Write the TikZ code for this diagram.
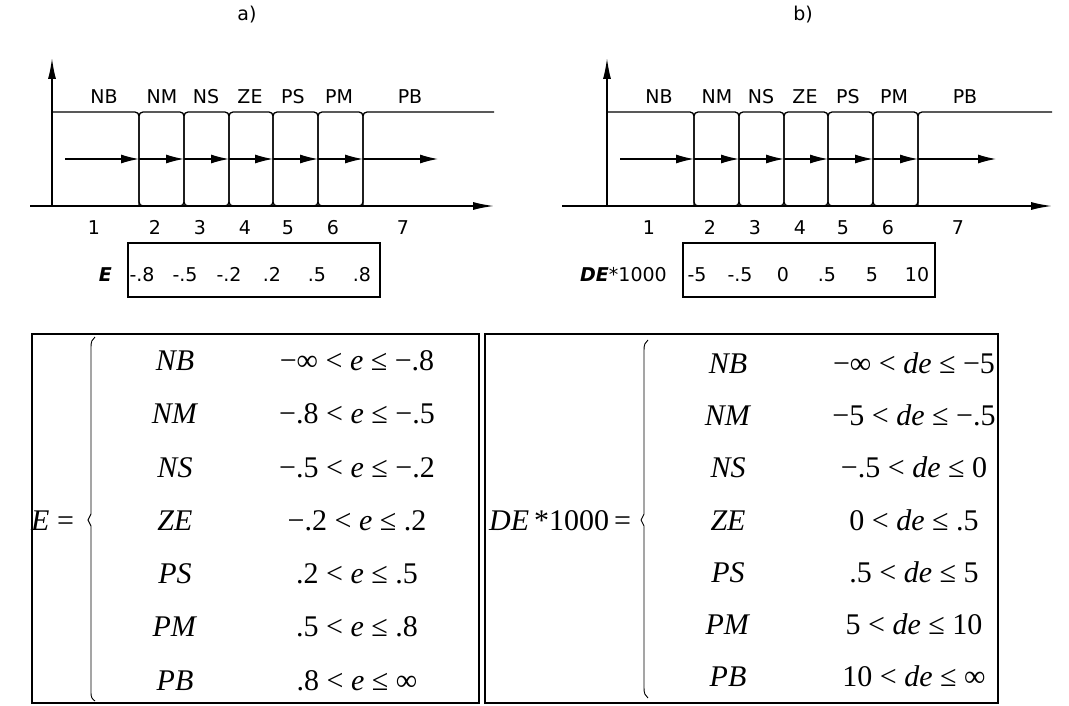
\documentclass[tikz,border=0pt]{standalone}
\usepackage{fontspec}
\setmainfont{Liberation Serif}
\newfontfamily\dejavu{DejaVu Sans}
\usetikzlibrary{arrows.meta}

\tikzset{
  axis/.style={line width=1.5pt, -{Latex[length=21pt,width=8pt]}},
  cell/.style={line width=1.3pt, rounded corners=4pt},
  flow/.style={line width=1.2pt, -{Latex[length=18pt,width=9pt]}},
  lbl/.style={font=\dejavu\fontsize{19}{21}\selectfont, inner sep=0pt},
  valbox/.style={draw, line width=1.4pt, inner sep=0pt},
  frame/.style={draw, line width=1.4pt, inner sep=0pt},
  tbl/.style={font=\fontsize{30}{34}\selectfont, inner sep=0pt},
  brace/.style={line width=0.9pt},
}

% One membership-function strip: #1 prefix, #2 left end of x axis,
% #3 right end of x axis and top line, #4 end of the flow arrow,
% #5 list of breakpoint values, #6 name of the variable
\newcommand\mfpanel[6]{%
  \coordinate (#1o) at (52,206);
  \coordinate (#1top) at (52,58);
  \coordinate (#1left) at (#2,206);
  \coordinate (#1right) at (#3,206);
  \coordinate (#1lineend) at (#3,112);
  \coordinate (#1start) at (65,159);
  \coordinate (#1end) at (#4,159);
  \foreach \k/\x in {1/139,2/184,3/229,4/273,5/318,6/363}{
    \coordinate (#1t\k) at (\x,112);
    \coordinate (#1b\k) at (\x,206);
    \coordinate (#1m\k) at (\x,159);
  }
  % axes
  \draw[axis] (#1left) -- (#1right);
  \draw[axis] (#1o) -- (#1top);
  % cells
  \draw[cell] (#1o |- #1t1) -- (#1t1) -- (#1b1);
  \draw[cell] (#1b1) rectangle (#1t2);
  \draw[cell] (#1b2) rectangle (#1t3);
  \draw[cell] (#1b3) rectangle (#1t4);
  \draw[cell] (#1b4) rectangle (#1t5);
  \draw[cell] (#1b5) rectangle (#1t6);
  \draw[cell] (#1b6) -- (#1t6) -- (#1lineend);
  % flow arrows through the cells
  \draw[flow] (#1start) -- (#1m1);
  \draw[flow] (#1m1) -- (#1m2);
  \draw[flow] (#1m2) -- (#1m3);
  \draw[flow] (#1m3) -- (#1m4);
  \draw[flow] (#1m4) -- (#1m5);
  \draw[flow] (#1m5) -- (#1m6);
  \draw[flow] (#1m6) -- (#1end);
  % linguistic labels and region numbers
  \foreach \k/\x/\t in {1/104/NB,2/162/NM,3/206/NS,4/250/ZE,5/293/PS,6/339/PM,7/410/PB}
    \node[lbl, anchor=base] (#1L\k) at (\x,104) {\t};
  \foreach \k/\x in {1/94,2/155,3/200,4/245,5/288,6/333,7/403}
    \node[lbl, anchor=base] (#1n\k) at (\x,234) {\k};
  % breakpoints
  \node[valbox, minimum width=252pt, minimum height=54pt] (#1box) at (254,270) {};
  \foreach \k/\x/\v in {#5}
    \node[lbl, anchor=base] (#1v\k) at (\x,281) {\v};
  \node[lbl, anchor=base east] (#1name) at (112,281) {#6};
}

\begin{document}
\begin{tikzpicture}[x=1pt, y=-1pt]
\useasboundingbox (0,0) rectangle (1069,706);

% panel titles
\node[lbl] (ta) at (247,15) {a)};
\node[lbl] (tb) at (803,15) {b)};

\begin{scope}
  \mfpanel{a}{30}{494}{438}{1/142/-.8,2/185/-.5,3/229/-.2,4/272/.2,5/317/.5,6/362/.8}{\bfseries\itshape E}
\end{scope}
\begin{scope}[xshift=555pt]
  \mfpanel{b}{7}{497}{441}{1/142/-5,2/185/-.5,3/228/0,4/272/.5,5/317/5,6/362/10}{{\bfseries\itshape DE}*1000}
\end{scope}

% definition of E
\node[frame, minimum width=447pt, minimum height=369pt] (lframe) at (255.5,518.5) {};
\node[tbl, anchor=base west] (lvar) at (31,530) {\textit{E} =};
\draw[brace] (95,337) .. controls (92,339) and (91,342) .. (91,347)
  -- (91,514) -- (88,520) -- (91,526) -- (91,693)
  .. controls (91,697) and (92,699) .. (95,701);
\foreach \k/\y/\t/\c in {
  1/360/NB/{−∞ < \textit{e} ≤ −.8},
  2/413/NM/{−.8 < \textit{e} ≤ −.5},
  3/467/NS/{−.5 < \textit{e} ≤ −.2},
  4/520/ZE/{−.2 < \textit{e} ≤ .2},
  5/573/PS/{.2 < \textit{e} ≤ .5},
  6/626/PM/{.5 < \textit{e} ≤ .8},
  7/680/PB/{.8 < \textit{e} ≤ ∞}}{
  \node[tbl, anchor=base] (lset\k) at (175,\y+10) {\textit{\t}};
  \node[tbl, anchor=base] (lcond\k) at (357,\y+10) {\c};
}

% definition of DE*1000
\node[frame, minimum width=513pt, minimum height=369pt] (rframe) at (741.5,518.5) {};
\node[tbl, anchor=base west] (rvar) at (489,530) {\textit{DE}\,*1000\,=};
\draw[brace] (648,340) .. controls (645,342) and (644,345) .. (644,350)
  -- (644,514) -- (641,520) -- (644,526) -- (644,688)
  .. controls (644,693) and (645,696) .. (648,698);
\foreach \k/\y/\t/\c in {
  1/363/NB/{−∞ < \textit{de} ≤ −5},
  2/415/NM/{−5 < \textit{de} ≤ −.5},
  3/467/NS/{−.5 < \textit{de} ≤ 0},
  4/520/ZE/{0 < \textit{de} ≤ .5},
  5/572/PS/{.5 < \textit{de} ≤ 5},
  6/624/PM/{5 < \textit{de} ≤ 10},
  7/676/PB/{10 < \textit{de} ≤ ∞}}{
  \node[tbl, anchor=base] (rset\k) at (728,\y+10) {\textit{\t}};
  \node[tbl, anchor=base] (rcond\k) at (914,\y+10) {\c};
}
\end{tikzpicture}
\end{document}
